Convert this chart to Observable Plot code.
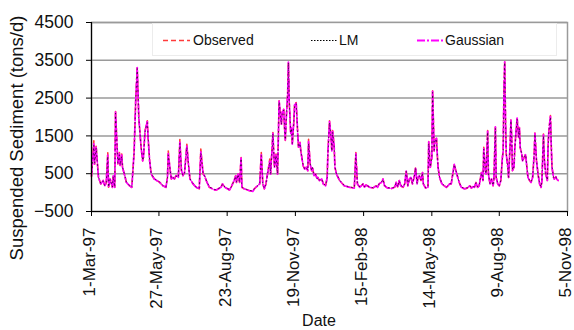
<!DOCTYPE html>
<html>
<head>
<meta charset="utf-8">
<script src="https://cdn.jsdelivr.net/npm/d3@7"></script>
<script src="https://cdn.jsdelivr.net/npm/@observablehq/plot@0.6"></script>
<style>
  html, body { margin: 0; padding: 0; background: #fff; }
  #wrap { position: relative; width: 574px; height: 330px; font-family: "Liberation Sans", Arial, sans-serif; overflow: hidden; }
  #legend { position: absolute; left: 152px; top: 23px; width: 405px; height: 33px; background: #fff; border: 1px solid #ececec; box-sizing: border-box; }
  .li { position: absolute; top: 6px; height: 20px; font-size: 14px; line-height: 20px; color: #111; white-space: nowrap; }
  .li svg { position: absolute; left: 0; top: 9px; }
  .li span { position: absolute; top: 0; }
  #ytitle { position: absolute; left: 17px; top: 138px; transform: translate(-50%, -50%) rotate(-90deg); font-size: 18.5px; white-space: nowrap; color: #111; }
  #xtitle { position: absolute; left: 289px; width: 60px; top: 312px; text-align: center; font-size: 16px; line-height: 18px; color: #111; }
</style>
</head>
<body>
<div id="wrap"></div>
<script>
// Days since 1 March 1997
const days = [
  0,3,4,6,9,12,15,17,19,21,
  22,24,27,28,30,31,34,36,37,39,
  40,43,45,49,52,55,57,59,61,62,
  64,66,67,69,70,72,73,75,77,81,
  88,92,96,98,99,101,103,105,107,109,
  112,114,116,118,120,123,125,127,131,135,
  139,141,144,146,148,152,159,161,167,169,
  172,178,180,182,184,186,187,189,191,193,
  194,197,204,208,210,212,217,219,221,223,
  225,227,230,231,233,234,235,236,238,240,
  241,242,244,245,246,248,249,250,251,253,
  254,255,257,258,259,261,262,264,265,266,
  267,269,270,272,273,275,277,279,280,282,
  284,285,287,289,291,292,294,297,299,302,
  304,305,307,309,310,311,313,314,316,320,
  326,333,339,341,343,346,348,350,352,354,
  359,363,367,369,371,374,376,378,382,387,
  391,393,395,397,399,402,404,406,408,410,
  412,414,417,418,420,421,423,425,427,428,
  431,434,435,437,439,440,442,443,445,446,
  447,449,452,455,458,462,464,466,468,470,
  473,475,477,481,485,488,490,492,494,496,
  498,500,503,505,506,508,509,511,512,514,
  516,518,519,521,522,524,526,528,530,531,
  532,533,534,535,537,538,540,541,542,543,
  545,546,548,549,551,552,553,555,556,558,
  560,562,563,565,567,569,571,572,574,575,
  576,578,580,581,583,584,585,586,588,589,
  590,592,593,594,596,597,599,600,602
];
const observed = [
  430,1370,750,1240,400,230,320,180,250,1060,
  140,360,140,450,140,2160,760,1060,720,1020,
  670,440,270,180,140,1100,2430,3300,1990,1720,
  1190,840,930,1640,1720,1900,1460,840,490,360,
  270,180,140,400,1100,670,360,400,360,450,
  400,1410,580,450,530,1280,760,360,230,140,
  100,1150,490,440,320,140,70,70,140,230,
  140,70,140,230,320,450,270,490,270,930,
  140,100,50,30,100,140,230,1060,230,100,
  230,490,890,490,1190,1590,1100,670,1020,490,
  1460,2430,1990,1810,2160,2200,1720,1370,1900,2600,
  3460,2430,1550,1720,1280,1900,2340,2380,1990,1550,
  1190,1330,1100,840,710,620,670,580,1410,760,
  580,670,450,490,360,400,320,360,230,180,
  400,1100,1900,1460,1100,1640,1260,670,490,320,
  180,140,120,1060,230,140,180,230,140,200,
  140,120,180,140,230,270,360,180,120,110,
  140,270,140,320,180,140,230,580,180,360,
  400,230,490,670,230,400,450,320,530,230,
  120,140,1370,670,930,2690,1100,1370,1460,1020,
  670,400,230,180,140,230,230,490,760,580,
  360,230,140,100,120,180,120,160,140,270,
  140,180,530,320,1200,580,490,1640,490,230,
  360,180,320,1770,400,230,180,320,930,1100,
  2690,3460,1990,1020,670,400,1280,1940,1460,580,
  670,1190,1720,1990,1460,1720,1190,1020,840,930,
  1020,580,400,320,270,400,1020,1590,840,670,
  490,230,140,320,1550,930,670,490,320,1280,
  1640,2040,1280,670,400,360,420,360,320
];
const lm = [
  420,1250,780,1180,410,240,310,190,250,960,
  150,350,150,430,150,2100,780,1000,730,960,
  680,450,280,190,150,1050,2400,3280,2000,1700,
  1200,850,920,1600,1700,1850,1470,850,500,370,
  280,190,150,390,1000,660,370,400,370,440,
  400,1300,600,450,520,1200,760,370,240,150,
  110,1050,500,440,330,150,80,80,140,230,
  150,80,140,230,320,430,280,480,280,900,
  150,110,60,40,100,140,230,980,240,110,
  230,480,800,500,1150,1560,1100,680,980,500,
  1400,2400,2000,1800,2100,2180,1700,1400,1850,2580,
  3440,2450,1570,1700,1300,1860,2300,2350,2000,1560,
  1200,1300,1100,850,720,630,660,590,1300,780,
  590,660,460,480,370,400,330,360,240,190,
  400,1050,1850,1470,1100,1600,1200,680,500,330,
  190,150,130,1000,240,150,180,230,150,200,
  150,130,180,150,230,270,350,190,130,120,
  150,260,150,310,190,150,230,560,190,350,
  390,240,480,650,240,400,440,330,520,240,
  130,150,1300,680,900,2650,1120,1350,1420,1030,
  680,410,240,190,150,230,240,480,740,590,
  370,240,150,110,130,180,130,160,150,260,
  150,190,520,330,1150,590,500,1600,500,240,
  350,190,320,1700,410,240,190,320,900,1080,
  2650,3440,2000,1040,680,410,1250,1900,1470,600,
  680,1150,1700,1950,1470,1700,1200,1030,850,920,
  1000,590,410,330,280,400,1000,1550,850,680,
  500,240,150,320,1500,940,680,500,330,1250,
  1620,2000,1300,680,410,370,410,370,330
];
const gaussian = [
  440,1290,760,1200,400,230,320,180,260,990,
  140,360,140,440,140,2140,770,1030,720,990,
  670,440,270,180,140,1080,2420,3310,1980,1720,
  1190,840,930,1620,1710,1880,1460,840,490,360,
  270,180,140,400,1030,670,360,400,360,450,
  400,1330,590,450,530,1230,760,360,230,140,
  100,1080,490,440,320,140,70,70,140,230,
  140,70,140,230,320,440,270,490,270,920,
  140,100,50,30,100,140,230,1000,230,100,
  230,490,830,490,1170,1570,1100,670,1000,490,
  1430,2420,1990,1810,2130,2200,1720,1380,1880,2600,
  3460,2430,1550,1710,1280,1880,2320,2370,1990,1550,
  1190,1320,1100,840,710,620,670,580,1350,760,
  580,670,450,490,360,400,320,360,230,180,
  400,1080,1880,1460,1100,1620,1230,670,490,320,
  180,140,120,1030,230,140,180,230,140,200,
  140,120,180,140,230,270,360,180,120,110,
  140,270,140,320,180,140,230,570,180,360,
  400,230,490,660,230,400,450,320,530,230,
  120,140,1340,670,920,2680,1100,1360,1440,1020,
  670,400,230,180,140,230,230,490,750,580,
  360,230,140,100,120,180,120,160,140,270,
  140,180,530,320,1170,580,490,1620,490,230,
  360,180,320,1740,400,230,180,320,920,1090,
  2680,3460,1990,1020,670,400,1270,1920,1460,580,
  670,1170,1710,1970,1460,1710,1190,1020,840,930,
  1010,580,400,320,270,400,1010,1570,840,670,
  490,230,140,320,1530,930,670,490,320,1270,
  1630,2020,1280,670,400,360,420,360,320
];
const seriesNames = ["Observed", "LM", "Gaussian"];
const yTicks = [-500, 500, 1500, 2500, 3500, 4500];
const xTickDates = ["1997-03-01","1997-05-27","1997-08-23","1997-11-19","1998-02-15","1998-05-14","1998-08-09","1998-11-05"];
const xDomain = ["1997-03-01", "1998-11-05"];
const yTitle = "Suspended Sediment (tons/d)";
const xTitle = "Date";

const start = new Date(Date.UTC(1997, 2, 1));
const rows = days.map((d, i) => ({
  date: d3.utcDay.offset(start, d),
  observed: observed[i],
  lm: lm[i],
  gaussian: gaussian[i]
}));
const parse = s => new Date(s + "T00:00:00Z");
const fmt = d3.utcFormat("%-d-%b-%y");

const chart = Plot.plot({
  width: 574,
  height: 330,
  marginLeft: 91,
  marginRight: 7,
  marginTop: 22,
  marginBottom: 119,
  style: { fontFamily: "'Liberation Sans', Arial, sans-serif", fontSize: "17px", color: "#111", background: "#fff", overflow: "visible" },
  x: { type: "utc", domain: xDomain.map(parse) },
  y: { domain: [yTicks[0], yTicks[yTicks.length - 1]] },
  marks: [
    Plot.frame({ stroke: "#9a9a9a", strokeWidth: 1.5 }),
    Plot.gridY(yTicks, { stroke: "#9a9a9a", strokeOpacity: 1, strokeWidth: 1.5 }),
    Plot.line(rows, { x: "date", y: "observed", stroke: "#ff3b3b", strokeWidth: 1.6, strokeDasharray: "5,3" }),
    Plot.line(rows, { x: "date", y: "gaussian", stroke: "#ff00ff", strokeWidth: 1.7, strokeDasharray: "9,2,2,2" }),
    Plot.line(rows, { x: "date", y: "lm", stroke: "#000", strokeWidth: 0.9, strokeDasharray: "1,3.5", strokeOpacity: 0.7 }),
    Plot.ruleY([yTicks[0]], { stroke: "#000", strokeWidth: 1.2 }),
    Plot.ruleX([parse(xDomain[0])], { stroke: "#000", strokeWidth: 1.2 }),
    Plot.axisY(yTicks, { tickSize: 5, tickPadding: 13, tickFormat: d3.format("d"), label: null, stroke: "#000", fontSize: 17.5 }),
    Plot.axisX(xTickDates.map(parse), { tickSize: 5, label: null, stroke: "#000", text: null }),
    Plot.axisX(xTickDates.map(parse), { tickSize: 0, tickPadding: 16, tickRotate: -90, tickFormat: fmt, label: null, dx: -2 })
  ]
});

const wrap = document.getElementById("wrap");
wrap.appendChild(chart);

// Legend (inside plot area, as in the reference)
const legendItems = [
  { name: seriesNames[0], color: "#ff3b3b", dash: "5,3", width: 1.6, lineLeft: 10, textLeft: 40 },
  { name: seriesNames[1], color: "#000", dash: "1.5,1.5", width: 1.2, lineLeft: 158, textLeft: 186 },
  { name: seriesNames[2], color: "#ff00ff", dash: "8,2,2,2", width: 1.8, lineLeft: 264, textLeft: 292 }
];
const legend = document.createElement("div");
legend.id = "legend";
for (const it of legendItems) {
  const d = document.createElement("div");
  d.className = "li";
  d.style.left = it.lineLeft + "px";
  d.innerHTML = `<svg width="27" height="3"><line x1="0" x2="27" y1="1.5" y2="1.5" stroke="${it.color}" stroke-width="${it.width}" stroke-dasharray="${it.dash}"/></svg><span style="left:${it.textLeft - it.lineLeft}px">${it.name}</span>`;
  legend.appendChild(d);
}
wrap.appendChild(legend);

const yt = document.createElement("div");
yt.id = "ytitle";
yt.textContent = yTitle;
wrap.appendChild(yt);

const xt = document.createElement("div");
xt.id = "xtitle";
xt.textContent = xTitle;
wrap.appendChild(xt);
</script>
</body>
</html>
